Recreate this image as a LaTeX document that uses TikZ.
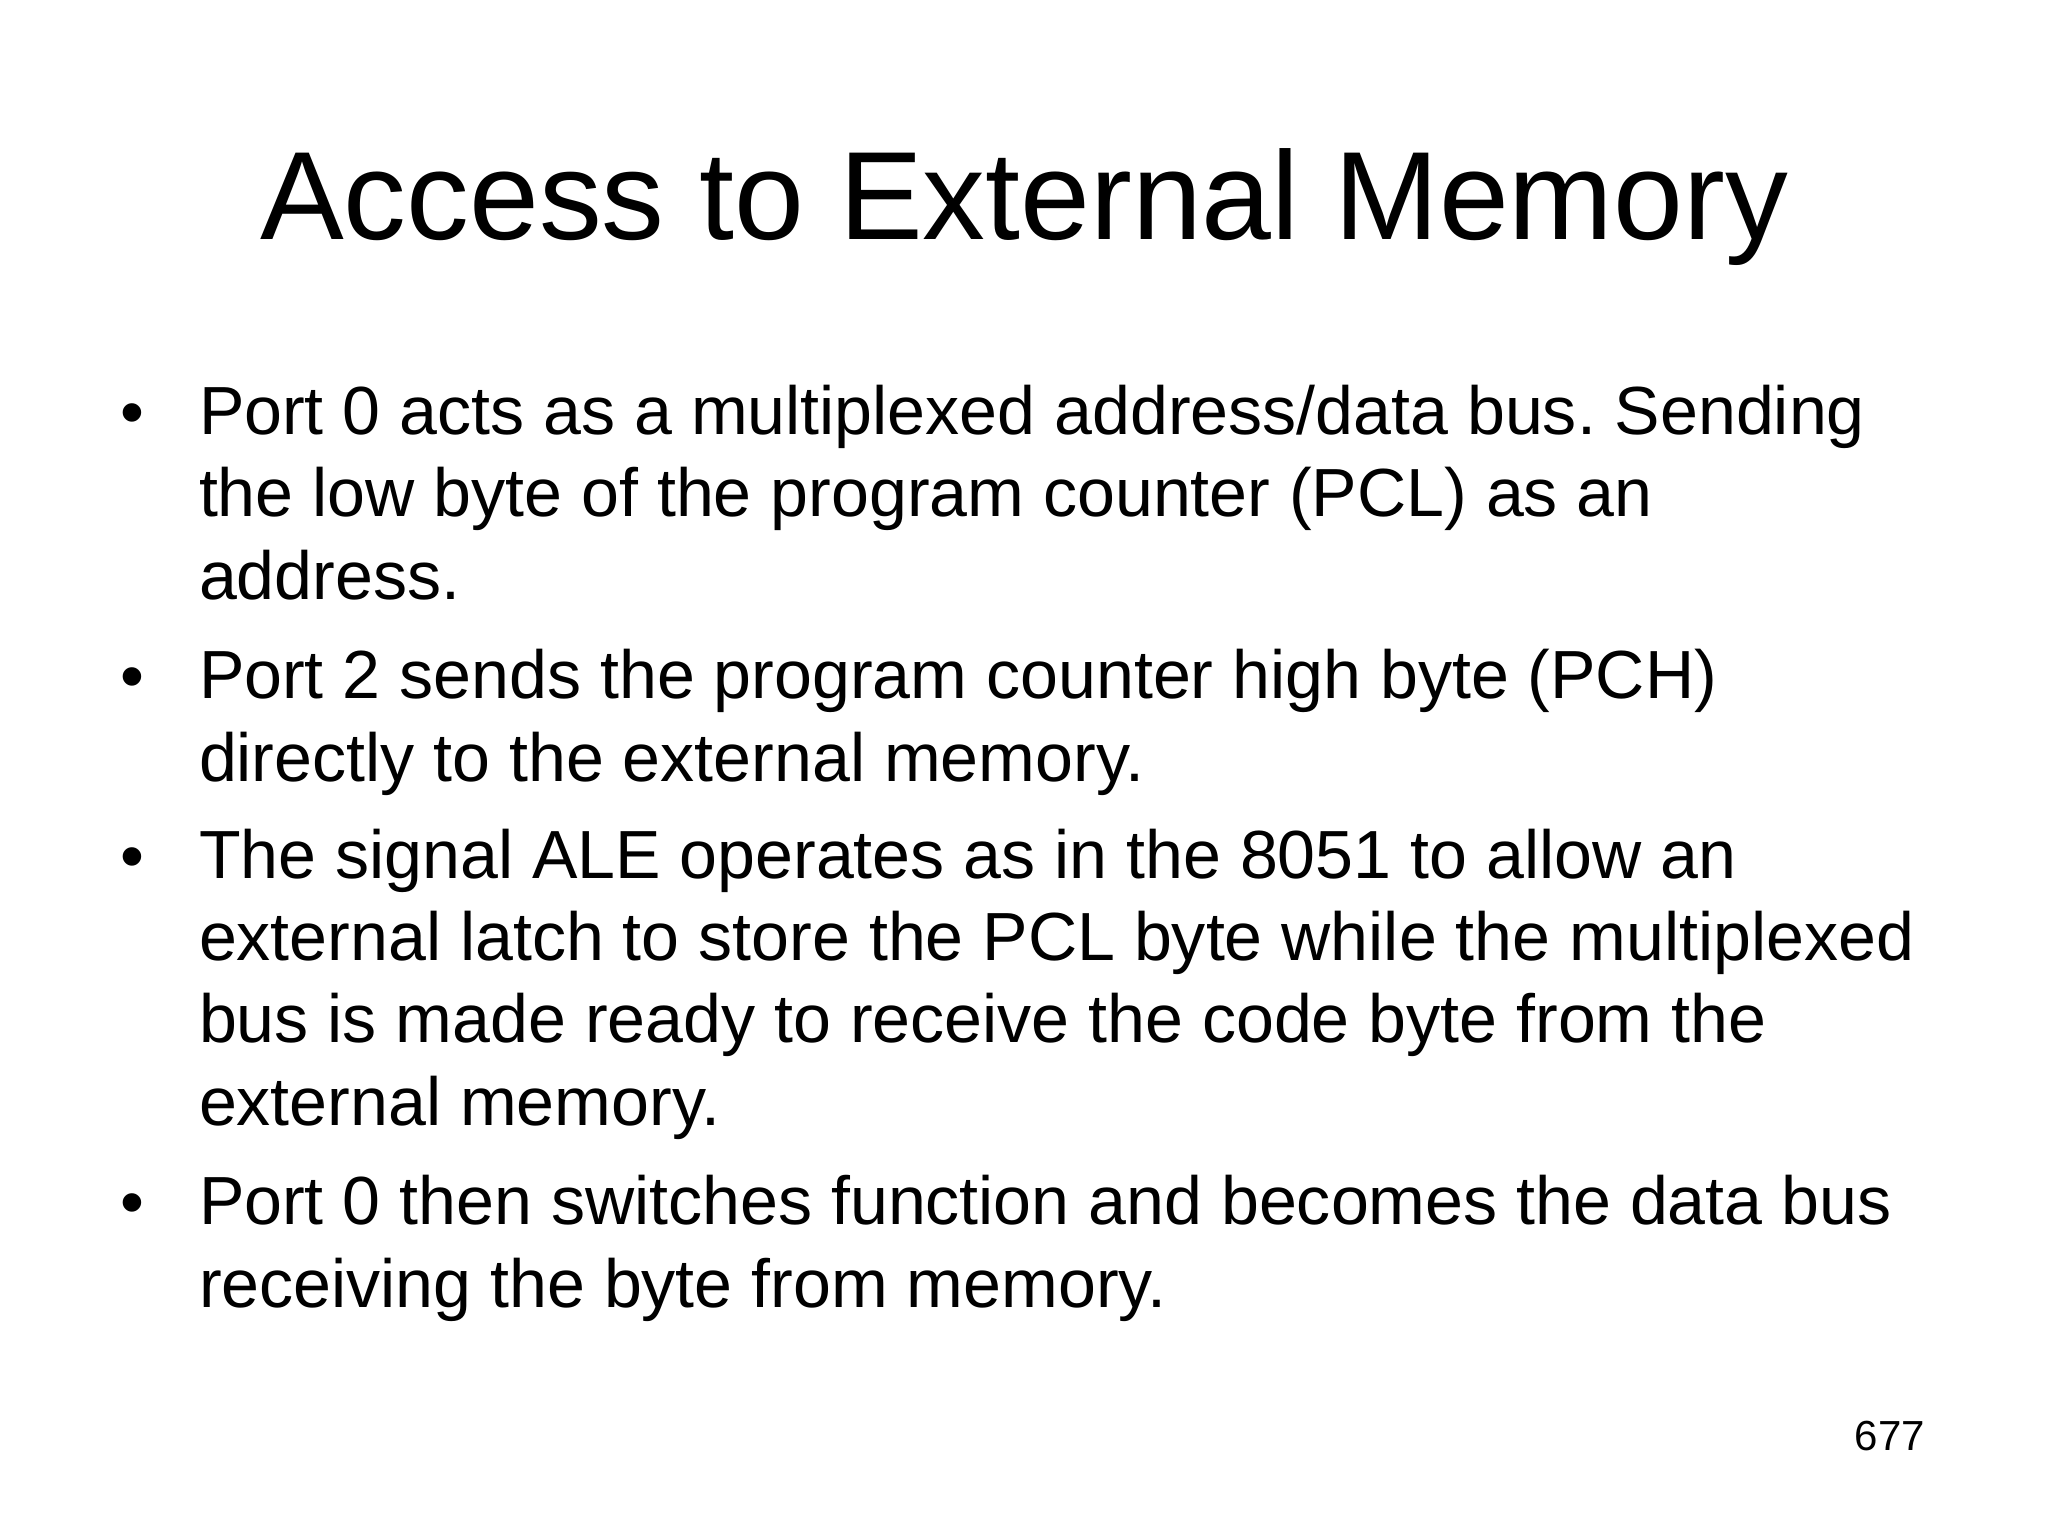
\documentclass[tikz,border=0pt]{standalone}
\usepackage{fontspec}
\setmainfont{Liberation Sans}
\usepackage{tikz}
\frenchspacing

\begin{document}
\begin{tikzpicture}[x=0.01cm, y=-0.01cm,
    every node/.style={inner sep=0pt, outer sep=0pt},
    slidetitle/.style={anchor=base, font=\fontsize{35.7pt}{43pt}\selectfont},
    bodytext/.style={anchor=base west, align=left, font=\fontsize{19.37pt}{23.33pt}\selectfont},
    bulletmark/.style={anchor=base, font=\fontsize{19.37pt}{23.33pt}\selectfont},
    pagenum/.style={anchor=base east, font=\fontsize{11.95pt}{14pt}\selectfont}]
        % Sfondo
        \fill[white] (0,0) rectangle (2048,1536);
        
        % Titolo
        \node[slidetitle] (title) at (1024,239) {Access to External Memory};
        
        % Punti elenco (il testo si aggancia all'ultima riga)
        \node[bulletmark] (m1) at (132,435) {\textbullet};
        \node[bodytext] (p1) at (199,599) {Port 0 acts as a multiplexed address/data bus. Sending\\the low byte of the program counter (PCL) as an\\address.};
        
        \node[bulletmark] (m2) at (132,699) {\textbullet};
        \node[bodytext] (p2) at (199,781) {Port 2 sends the program counter high byte (PCH)\\directly to the external memory.};
        
        \node[bulletmark] (m3) at (132,879) {\textbullet};
        \node[bodytext] (p3) at (199,1125) {The signal ALE operates as in the 8051 to allow an\\external latch to store the PCL byte while the multiplexed\\bus is made ready to receive the code byte from the\\external memory.};
        
        \node[bulletmark] (m4) at (132,1225) {\textbullet};
        \node[bodytext] (p4) at (199,1307) {Port 0 then switches function and becomes the data bus\\receiving the byte from memory.};
        
        % Numero pagina
        \node[pagenum] (page) at (1925,1450) {677};
    \end{tikzpicture}
\end{document}
